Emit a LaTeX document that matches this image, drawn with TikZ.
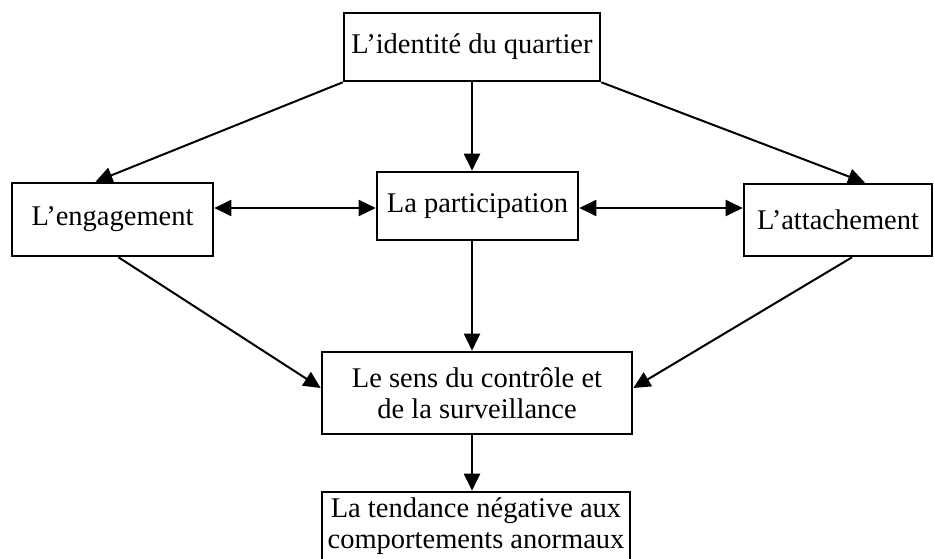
\documentclass[tikz,border=0pt]{standalone}
\usepackage{fontspec}
\setmainfont{Liberation Serif}
\usetikzlibrary{arrows.meta}
\begin{document}
\begin{tikzpicture}[x=1pt, y=-1pt]
    \tikzstyle{every node}=[align = center, font=\fontsize{28.5}{31}\selectfont, inner sep=0pt]
    \tikzstyle{box} = [draw, line width=2.6pt, fill=white]
    \tikzstyle{link} = [line width=2pt, -{Triangle[length=17pt, width=16pt]}]
    \tikzstyle{both} = [line width=2pt, {Triangle[length=17pt, width=16pt]}-{Triangle[length=17pt, width=16pt]}]
    \useasboundingbox (0,0) rectangle (934,559);
    \node[box, minimum width=256pt, minimum height=68pt] (quartier) at (472,47) {L’identité du quartier};
    \node[box, minimum width=201pt, minimum height=68pt] (participation) at (477.5,206) {La participation};
    \node[box, minimum width=201pt, minimum height=73pt] (engagement) at (112.5,219.5) {L’engagement};
    \node[box, minimum width=188pt, minimum height=72pt] (attachement) at (838,220) {L’attachement};
    \node[box, minimum width=310pt, minimum height=82pt] (sens) at (477,393) {Le sens du contrôle et\\de la surveillance};
    \node[box, minimum width=308pt, minimum height=68pt] (tendance) at (476,526) {La tendance négative aux\\comportements anormaux};
    % fleches
    \draw[link] (quartier.south west) -- ([xshift=-17pt]engagement.north);
    \draw[link] (quartier.south) -- (participation.north -| quartier.south);
    \draw[link] (quartier.south east) -- ([xshift=27pt]attachement.north);
    \draw[both] ([yshift=11.5pt]engagement.east) -- ([yshift=-2pt]participation.west);
    \draw[both] ([yshift=-2pt]participation.east) -- ([yshift=12pt]attachement.west);
    \draw[link] ([xshift=6pt]engagement.south) -- ([yshift=5pt]sens.west);
    \draw[link] (participation.south -| quartier.south) -- (sens.north -| quartier.south);
    \draw[link] ([xshift=14pt]attachement.south) -- ([yshift=5pt]sens.east);
    \draw[link] (sens.south -| quartier.south) -- (tendance.north -| quartier.south);
\end{tikzpicture}
\end{document}
